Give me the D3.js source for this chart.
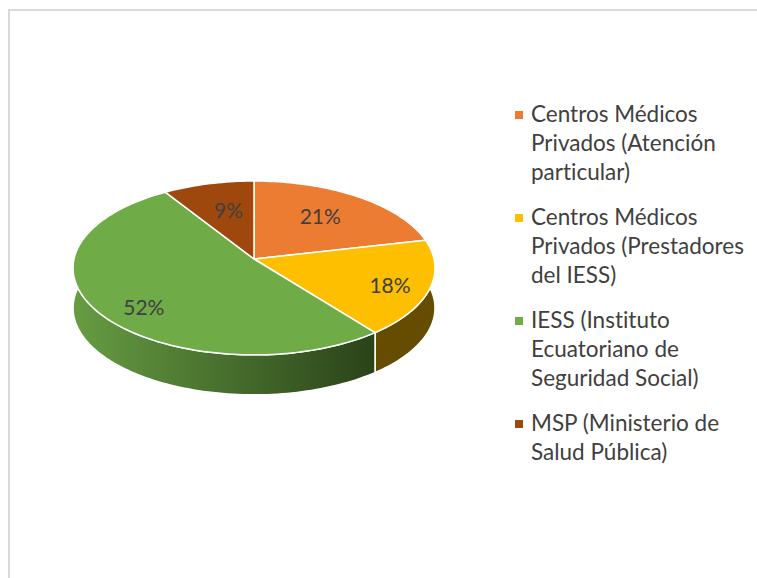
<!DOCTYPE html>
<html>
<head>
<meta charset="utf-8">
<script src="https://cdn.jsdelivr.net/npm/d3@7"></script>
<style>
	html, body { margin: 0; padding: 0; background: #fff; }
	svg { display: block; }
	text { font-family: Lato, "Open Sans", sans-serif; fill: #404040; font-variant-ligatures: none; }
</style>
</head>
<body>
<div id="chart"></div>
<script>

// chart data
var values = [21.4, 18, 51.6, 9];
var valueLabels = ["21%", "18%", "52%", "9%"];
var colors = ["#ec7c32", "#fdbf00", "#6fac47", "#9e480e"];
var legendLines = [
	["Centros Médicos", "Privados (Atención", "particular)"],
	["Centros Médicos", "Privados (Prestadores", "del IESS)"],
	["IESS (Instituto", "Ecuatoriano de", "Seguridad Social)"],
	["MSP (Ministerio de", "Salud Pública)"]
];

var width = 757, height = 578;

// pie geometry: a tilted disc, the centre sits above the middle of the ellipse
var cx = 254, cy = 259, rX = 180, rY = 86, persp = -0.103, depth = 40;

var svg = d3.select("#chart").append("svg")
	.attr("width", width)
	.attr("height", height);

// chart frame
svg.append("path")
	.attr("d", "M9,578V10H757")
	.attr("fill", "none")
	.attr("stroke", "#d9d9d9")
	.attr("stroke-width", 2);

var defs = svg.append("defs");
var wallGrad = defs.append("linearGradient")
	.attr("id", "wallGreen")
	.attr("gradientUnits", "userSpaceOnUse")
	.attr("x1", cx - rX).attr("x2", cx + 122)
	.attr("y1", 0).attr("y2", 0);
wallGrad.append("stop").attr("offset", "0%").attr("stop-color", "#669c42");
wallGrad.append("stop").attr("offset", "100%").attr("stop-color", "#2a4219");

// unit circle -> screen
function project(a, r) {
	var x = r * Math.sin(a), y = -r * Math.cos(a);
	var w = 1 + persp * y;
	return [cx + rX * x / w, cy + rY * y / w];
}

function arcPoints(d) {
	var n = Math.ceil((d.endAngle - d.startAngle) * 40);
	return d3.range(n + 1).map(function(i){
		return project(d.startAngle + (d.endAngle - d.startAngle) * i / n, 1);
	});
}

var line = d3.line().curve(d3.curveLinear);

var pie = d3.pie().sort(null).value(function(d){ return d; });
var slices = pie(values);

var wallFill = ["#8a4a1c", "#664c00", "url(#wallGreen)", "#5e2b08"];

// side walls first, the top faces cover what is behind
svg.append("g").selectAll("path")
	.data(slices).enter()
	.append("path")
		.attr("d", function(d){
			var top = arcPoints(d);
			var bottom = top.map(function(p){ return [p[0], p[1] + depth]; }).reverse();
			return line(top.concat(bottom)) + "Z";
		})
		.attr("fill", function(d,i){ return wallFill[i]; })
		.attr("stroke", "#fff")
		.attr("stroke-width", 1.5);

// top faces
svg.append("g").selectAll("path")
	.data(slices).enter()
	.append("path")
		.attr("d", function(d){
			return line([[cx, cy]].concat(arcPoints(d))) + "Z";
		})
		.attr("fill", function(d,i){ return colors[i]; })
		.attr("stroke", "#fff")
		.attr("stroke-width", 1.5)
		.attr("stroke-linejoin", "round");

// value labels, along the middle of each slice
var labelRadius = [0.72, 0.78, 0.78, 0.6];
var labelNudge = [[-10, 2], [0, 3], [10, 7], [3, -3]];

svg.append("g").selectAll("text")
	.data(slices).enter()
	.append("text")
		.attr("x", function(d,i){ return project((d.startAngle + d.endAngle) / 2, labelRadius[i])[0] + labelNudge[i][0]; })
		.attr("y", function(d,i){ return project((d.startAngle + d.endAngle) / 2, labelRadius[i])[1] + labelNudge[i][1]; })
		.attr("text-anchor", "middle")
		.attr("dominant-baseline", "central")
		.style("font-size", "21px")
		.text(function(d,i){ return valueLabels[i]; });

// legend
var legendX = 515, legendTextX = 531, legendTop = 113.5, lineH = 29, itemGap = 16;

var legend = svg.append("g");
var row = 0;
legendLines.forEach(function(lines, i){
	var y0 = legendTop + row * lineH + i * itemGap;
	legend.append("rect")
		.attr("x", legendX)
		.attr("y", y0 - 2.5)
		.attr("width", 8)
		.attr("height", 8)
		.attr("fill", colors[i]);
	lines.forEach(function(t, j){
		legend.append("text")
			.attr("x", legendTextX)
			.attr("y", y0 + j * lineH)
			.attr("dominant-baseline", "central")
			.style("font-size", "22.5px")
			.text(t);
	});
	row += lines.length;
});

</script>
</body>
</html>
